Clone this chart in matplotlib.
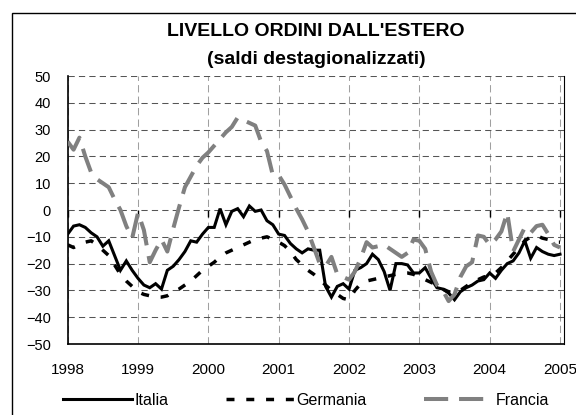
import numpy as np
import matplotlib.pyplot as plt
from matplotlib.patches import Rectangle

plt.rcParams['font.family'] = ['Liberation Sans', 'DejaVu Sans']

# monthly balances, Jan 1998 .. Jan 2005
italia = [-9, -6, -5.5, -6.5, -8.5, -10, -13.5, -11.5, -17, -22.5, -19, -22.5,
          -25.5, -28, -29, -27.5, -29.5, -22.5, -21, -18.5, -15.5, -11.5, -12, -9,
          -6.5, -6.5, 0.5, -5.5, -0.5, 0.5, -2.5, 1.5, -0.5, 0, -4, -5.5,
          -9, -9.5, -12.5, -14.5, -16, -14.5, -15, -15, -28.5, -32.5, -28.5, -27.5,
          -29.5, -22.5, -21.5, -20, -16.5, -18.5, -23, -30, -20, -20, -20.5, -23.5,
          -23.5, -21.5, -25.5, -29, -29.5, -31, -33.5, -30.5, -29, -28, -26.5, -26,
          -23.5, -25.5, -22.5, -20, -19, -16, -11.5, -18, -14, -15.5, -16.5, -17,
          -16.5]
germania = [-13, -14, -13, -12, -11.5, -13, -15, -17, -20.5, -24, -26.5, -28.5,
            -30.5, -31.5, -32, -32.5, -32.5, -32, -30.5, -29.5, -28, -26.5, -24.5, -22.5,
            -21, -19.5, -17.5, -16, -15, -14, -13, -12, -11, -10.5, -10, -11,
            -12, -13.3, -15.5, -18.5, -20.5, -22.5, -24, -26, -28, -30, -31.5, -33,
            -33.5, -30, -27.5, -26.5, -26, -25.5, -25, -24.5, -24, -23.5, -23.5, -24,
            -25, -26, -27, -28, -29.5, -30.5, -31, -30, -28.5, -27, -26, -25,
            -24.5, -23.5, -21.5, -19, -16.5, -14, -11.5, -10, -9.5, -10.5, -11, -12,
            -12]
francia = [25.5, 22.5, 27, 20, 14, 11.5, 10, 8.5, 4, 0, -6, -10.5,
           -1, -7.5, -19.5, -15, -11, -15.5, -7, 1, 8.5, 12.5, 16.5, 19.5,
           21.5, 24, 26.5, 29, 31, 34.5, 33.5, 32.5, 31.5, 25.5, 22, 13,
           13, 9.5, 5, 0.5, -3.5, -8, -14, -20, -21, -17.5, -24, -25,
           -26, -23, -18, -12, -14, -13.5, -13, -14.5, -16, -17.5, -16, -11,
           -11.5, -14.5, -23, -28, -30, -34, -31.5, -25, -21, -19.5, -9.5, -10,
           -13, -11, -8, -1, -15.5, -11, -6.5, -8.5, -6, -5.5, -9, -13,
           -14]
years = list(range(1998, 2006))
y_ticks = list(range(-50, 51, 10))

t = 1998 + np.arange(len(italia)) / 12

fig = plt.figure(figsize=(5.76, 4.15), dpi=100)
ax = fig.add_axes([67.7 / 576, 1 - 344 / 415, (564 - 67.7) / 576, (344 - 76) / 415])

# outer chart frame, runs off the right and bottom edges
fig.patches.append(Rectangle((11.7 / 576, -0.2), 1.2, 1.2 - 12.7 / 415 + 0.0,
                             transform=fig.transFigure, fill=False,
                             edgecolor='black', lw=1.0))

ax.plot(t, italia, color='black', lw=2.2, label='Italia',
        solid_joinstyle='miter', zorder=3)
ax.plot(t, germania, color='black', lw=2.5, linestyle=(0, (2.3, 3.4)),
        label='Germania', zorder=3)
ax.plot(t, francia, color='#808080', lw=2.9, linestyle=(0, (6, 2.7)),
        label='Francia', zorder=3)

ax.set_xlim(1998, 2005.057)
ax.set_ylim(-50, 50)
ax.set_xticks(years)
ax.set_yticks(y_ticks)

ax.yaxis.grid(True, color='#555555', lw=0.75, linestyle=(0, (6, 4)))
ax.xaxis.grid(True, color='#a0a0a0', lw=0.75, linestyle=(0, (7, 4)))
ax.set_axisbelow(True)

# category axis crosses at zero: only its tick marks show
ax.spines['top'].set_position(('data', 0))
ax.spines['top'].set_visible(False)
ax.xaxis.set_ticks_position('top')
ax.tick_params(axis='x', top=True, bottom=False, labeltop=False, labelbottom=True,
               direction='in', length=5, width=1, pad=13.5, labelsize=11)
ax.tick_params(axis='y', length=0, pad=12.2, labelsize=10.5)
ax.spines['left'].set_linewidth(1.2)
ax.spines['bottom'].set_linewidth(1.2)
ax.spines['right'].set_linewidth(0.8)

fig.text(316 / 576, 1 - 32 / 415, "LIVELLO ORDINI DALL'ESTERO", ha='center',
         va='center', fontsize=14, fontweight='bold')
fig.text(316 / 576, 1 - 60 / 415, "(saldi destagionalizzati)", ha='center',
         va='center', fontsize=14, fontweight='bold')

fig.legend(loc='center', bbox_to_anchor=(306 / 576, 1 - 400 / 415), ncol=3,
           frameon=False, fontsize=11.5, handlelength=4.3, handletextpad=0.15,
           columnspacing=3.6, borderpad=0)

fig.savefig('out.png', dpi=100)
